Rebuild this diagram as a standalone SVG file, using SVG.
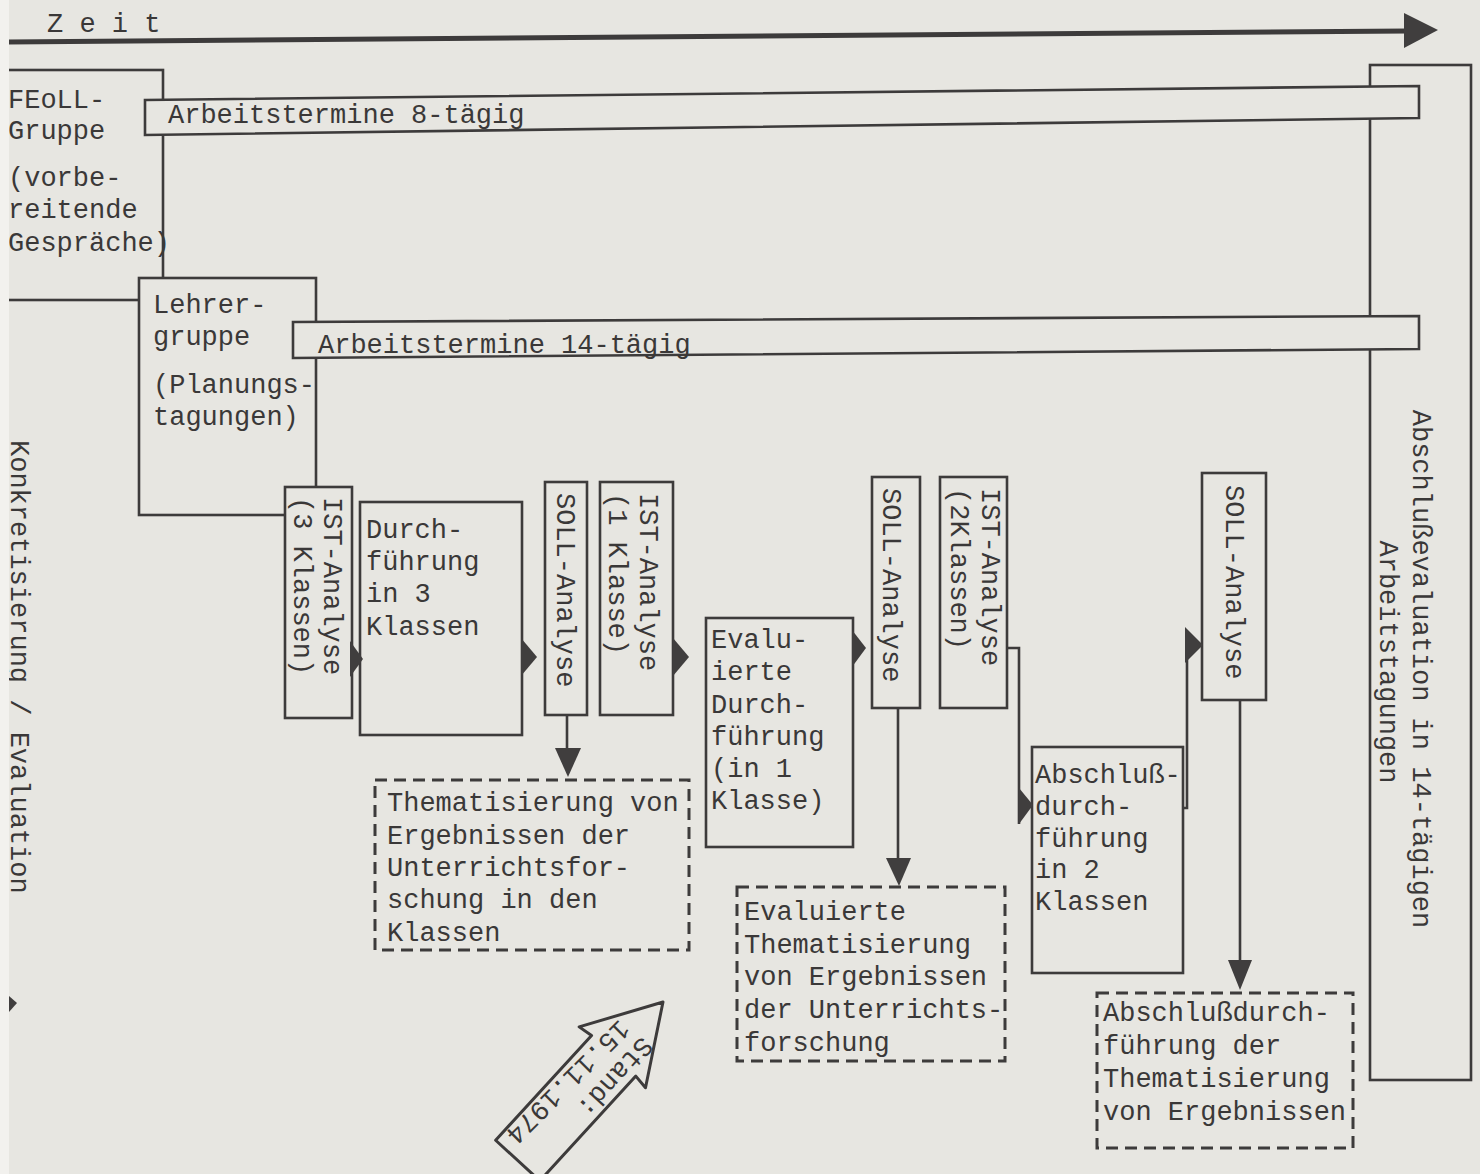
<svg xmlns="http://www.w3.org/2000/svg" width="1480" height="1174" viewBox="0 0 1480 1174">
<style>
.b{fill:#e7e6e1;stroke:#3d3b3b;stroke-width:2.6}
.d{fill:none;stroke:#3d3b3b;stroke-width:3;stroke-dasharray:12 7}
.l{fill:none;stroke:#3d3b3b;stroke-width:2.6}
.h{fill:#403e3e;stroke:none}
.t{font-family:"Liberation Mono","Courier New",monospace;font-size:27px;fill:#3a3838}
</style>
<rect width="1480" height="1174" fill="#e7e6e1"/>
<g id="zeit">
<path d="M8,42 L1408,31" stroke="#3d3b3b" stroke-width="5" fill="none"/>
<polygon class="h" points="1404,13 1438,30 1404,48"/>
<text class="t" x="47" y="32">Z e i t</text>
</g>
<g id="feoll">
<rect class="b" x="-5" y="70" width="168" height="230"/>
<text class="t" x="8" y="108">FEoLL-</text>
<text class="t" x="8" y="139">Gruppe</text>
<text class="t" x="8" y="186">(vorbe-</text>
<text class="t" x="8" y="218">reitende</text>
<text class="t" x="8" y="251">Gespräche)</text>
</g>
<g id="abschlussevaluation">
<rect class="b" x="1370" y="65" width="101" height="1015"/>
<text class="t" text-anchor="middle" transform="translate(1413,669) rotate(90)">Abschlußevaluation in 14-tägigen</text>
<text class="t" text-anchor="middle" transform="translate(1380,662) rotate(90)">Arbeitstagungen</text>
</g>
<g id="lehrergruppe">
<rect class="b" x="139" y="278" width="177" height="237"/>
<text class="t" x="153" y="313">Lehrer-</text>
<text class="t" x="153" y="345">gruppe</text>
<text class="t" x="153" y="393">(Planungs-</text>
<text class="t" x="153" y="425">tagungen)</text>
</g>
<g id="termine8">
<path class="b" d="M145,100 L1419,86 L1419,118 L145,135 Z"/>
<text class="t" x="168" y="123">Arbeitstermine 8-tägig</text>
</g>
<g id="termine14">
<path class="b" d="M293,322 L1419,316 L1419,349 L293,358 Z"/>
<text class="t" x="318" y="353">Arbeitstermine 14-tägig</text>
</g>
<g id="ist3">
<rect class="b" x="285" y="487" width="67" height="231"/>
<text class="t" transform="translate(324,497) rotate(90)">IST-Analyse<tspan x="0" dy="30">(3 Klassen)</tspan></text>
</g>
<g id="durchfuehrung3">
<rect class="b" x="360" y="502" width="162" height="233"/>
<text class="t" x="366" y="538">Durch-</text>
<text class="t" x="366" y="570">führung</text>
<text class="t" x="366" y="602">in 3</text>
<text class="t" x="366" y="635">Klassen</text>
</g>
<g id="soll1">
<rect class="b" x="545" y="482" width="42" height="233"/>
<text class="t" transform="translate(557,493) rotate(90)">SOLL-Analyse</text>
</g>
<g id="ist1">
<rect class="b" x="600" y="482" width="73" height="233"/>
<text class="t" transform="translate(640,493) rotate(90)">IST-Analyse<tspan x="0" dy="31">(1 Klasse)</tspan></text>
</g>
<g id="evaluierte">
<rect class="b" x="706" y="618" width="147" height="229"/>
<text class="t" x="711" y="648">Evalu-</text>
<text class="t" x="711" y="680">ierte</text>
<text class="t" x="711" y="713">Durch-</text>
<text class="t" x="711" y="745">führung</text>
<text class="t" x="711" y="777">(in 1</text>
<text class="t" x="711" y="809">Klasse)</text>
</g>
<g id="soll2">
<rect class="b" x="872" y="477" width="48" height="231"/>
<text class="t" transform="translate(883,488) rotate(90)">SOLL-Analyse</text>
</g>
<g id="ist2">
<rect class="b" x="940" y="477" width="67" height="231"/>
<text class="t" transform="translate(982,488) rotate(90)">IST-Analyse<tspan x="0" dy="31">(2Klassen)</tspan></text>
</g>
<g id="soll3">
<rect class="b" x="1202" y="473" width="64" height="227"/>
<text class="t" transform="translate(1226,485) rotate(90)">SOLL-Analyse</text>
</g>
<g id="abschlussdurchfuehrung">
<rect class="b" x="1032" y="747" width="151" height="226"/>
<text class="t" x="1035" y="783">Abschluß-</text>
<text class="t" x="1035" y="815">durch-</text>
<text class="t" x="1035" y="847">führung</text>
<text class="t" x="1035" y="878">in 2</text>
<text class="t" x="1035" y="910">Klassen</text>
</g>
<g id="thema1">
<rect class="d" x="375" y="780" width="314" height="170"/>
<text class="t" x="387" y="811">Thematisierung von</text>
<text class="t" x="387" y="844">Ergebnissen der</text>
<text class="t" x="387" y="876">Unterrichtsfor-</text>
<text class="t" x="387" y="908">schung in den</text>
<text class="t" x="387" y="941">Klassen</text>
</g>
<g id="thema2">
<rect class="d" x="737" y="887" width="268" height="174"/>
<text class="t" x="744" y="920">Evaluierte</text>
<text class="t" x="744" y="953">Thematisierung</text>
<text class="t" x="744" y="985">von Ergebnissen</text>
<text class="t" x="744" y="1018">der Unterrichts-</text>
<text class="t" x="744" y="1051">forschung</text>
</g>
<g id="thema3">
<rect class="d" x="1097" y="993" width="256" height="155"/>
<text class="t" x="1103" y="1021">Abschlußdurch-</text>
<text class="t" x="1103" y="1054">führung der</text>
<text class="t" x="1103" y="1087">Thematisierung</text>
<text class="t" x="1103" y="1120">von Ergebnissen</text>
</g>
<g id="connectors">
<polygon class="h" points="350,641 363,659 350,677"/>
<polygon class="h" points="521,638 537,657 521,676"/>
<path class="l" d="M567,715 V752"/>
<polygon class="h" points="555,748 581,748 568,777"/>
<polygon class="h" points="673,638 689,657 673,676"/>
<polygon class="h" points="852,630 866,648 852,667"/>
<path class="l" d="M898,708 V862"/>
<polygon class="h" points="886,858 911,858 899,886"/>
<path class="l" d="M1007,648 H1019 V824"/>
<polygon class="h" points="1019,788 1033,805 1019,824"/>
<path class="l" d="M1183,808 H1187 V645" stroke-width="3.5"/>
<polygon class="h" points="1185,627 1203,645 1185,663"/>
<path class="l" d="M1240,700 V962"/>
<polygon class="h" points="1228,960 1252,960 1240,990"/>
</g>
<g id="stand" transform="translate(663,1002) rotate(-47.5)">
<polygon fill="none" stroke="#3d3b3b" stroke-width="3" stroke-linejoin="round" points="0,0 -75,45 -73,30 -215,30 -215,-30 -73,-30 -75,-45"/>
<text class="t" transform="translate(-39,7) rotate(180)">Stand:</text>
<text class="t" transform="translate(-42,-21) rotate(182.5)">15.11.1974</text>
</g>
<g id="konkretisierung">
<text class="t" transform="translate(11,440) rotate(90)">Konkretisierung / Evaluation</text>
<polygon class="h" points="9,996 17,1003 9,1012"/>
</g>
<rect x="0" y="0" width="9" height="1174" fill="#f2f1ee"/>
</svg>
